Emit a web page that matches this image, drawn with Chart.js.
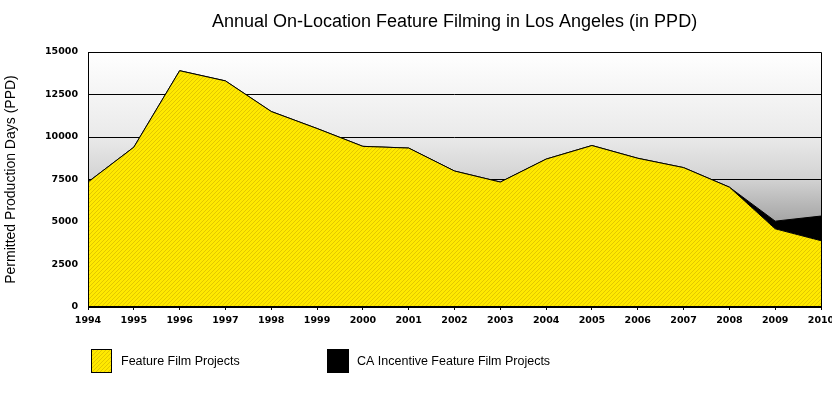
<!DOCTYPE html>
<html>
<head>
<meta charset="utf-8">
<script src="https://cdn.jsdelivr.net/npm/chart.js@4.4.0/dist/chart.umd.min.js"></script>
<style>
html, body { margin: 0; padding: 0; background: #fff; }
#wrap { width: 832px; height: 398px; }
</style>
</head>
<body>
<div id="wrap"><canvas id="myChart" width="832" height="398"></canvas></div>
<script>
// chart data
let years = ['1994', '1995', '1996', '1997', '1998', '1999', '2000', '2001', '2002',
             '2003', '2004', '2005', '2006', '2007', '2008', '2009', '2010'];
let featureFilm = [7350, 9400, 13900, 13300, 11500, 10500, 9450, 9350, 8000,
                   7350, 8700, 9500, 8750, 8200, 7050, 4600, 3900];
let caIncentive = [0, 0, 0, 0, 0, 0, 0, 0, 0,
                   0, 0, 0, 0, 0, 0, 450, 1450];
let yTickStep = 2500;
let yMax = 15000;

let chartTitle = 'Annual On-Location Feature Filming in Los Angeles (in PPD)';
let yTitle = 'Permitted Production Days (PPD)';
let seriesNames = ['Feature Film Projects', 'CA Incentive Feature Film Projects'];

// yellow hatched fill
function makeHatch() {
    const c = document.createElement('canvas');
    c.width = 4;
    c.height = 4;
    const g = c.getContext('2d');
    g.fillStyle = '#ffe900';
    g.fillRect(0, 0, 4, 4);
    g.fillStyle = '#e2c800';
    for (let i = 0; i < 4; i++) {
        g.fillRect(3 - i, i, 1, 1);
    }
    return g.createPattern(c, 'repeat');
}
const hatch = makeHatch();

// grey gradient behind the plot
const plotBackground = {
    id: 'plotBackground',
    beforeDraw(chart) {
        const a = chart.chartArea;
        const ctx = chart.ctx;
        const grad = ctx.createLinearGradient(0, a.top, 0, a.bottom);
        grad.addColorStop(0, '#ffffff');
        grad.addColorStop(0.33, '#eaeaea');
        grad.addColorStop(0.5, '#d2d2d2');
        grad.addColorStop(0.65, '#a9a9a9');
        grad.addColorStop(1, '#707070');
        ctx.save();
        ctx.fillStyle = grad;
        ctx.fillRect(a.left, a.top, a.right - a.left, a.bottom - a.top);
        ctx.restore();
    }
};

// frame, title and legend
const extras = {
    id: 'extras',
    afterDatasetsDraw(chart) {
        const a = chart.chartArea;
        const ctx = chart.ctx;
        ctx.save();
        ctx.strokeStyle = '#000';
        ctx.lineWidth = 1;
        ctx.beginPath();
        ctx.moveTo(Math.round(a.left) + 0.5, a.bottom);
        ctx.lineTo(Math.round(a.left) + 0.5, Math.round(a.top) + 0.5);
        ctx.lineTo(Math.round(a.right) + 0.5, Math.round(a.top) + 0.5);
        ctx.lineTo(Math.round(a.right) + 0.5, a.bottom);
        ctx.stroke();
        ctx.fillStyle = '#000';
        ctx.fillRect(Math.round(a.left), Math.round(a.bottom) - 1, Math.round(a.right) - Math.round(a.left) + 1, 2);
        ctx.restore();
    },
    afterDraw(chart) {
        const a = chart.chartArea;
        const ctx = chart.ctx;
        ctx.save();
        ctx.fillStyle = '#000';
        ctx.textBaseline = 'middle';
        ctx.textAlign = 'center';
        ctx.font = '18px "Liberation Sans", Arial, sans-serif';
        ctx.fillText(chartTitle, (a.left + a.right) / 2, 22);

        // legend
        ctx.textAlign = 'left';
        ctx.font = '12.5px "Liberation Sans", Arial, sans-serif';
        ctx.fillStyle = hatch;
        ctx.fillRect(91, 349, 21, 24);
        ctx.strokeStyle = '#000';
        ctx.lineWidth = 1;
        ctx.strokeRect(91.5, 349.5, 20, 23);
        ctx.fillStyle = '#000';
        ctx.fillText(seriesNames[0], 121, 362);
        ctx.fillRect(327, 349, 22, 24);
        ctx.fillText(seriesNames[1], 357, 362);
        ctx.restore();
    }
};

const tickFont = { family: '"DejaVu Sans", Verdana, sans-serif', size: 9.5, weight: 'bold' };

const ctx = document.getElementById('myChart').getContext('2d');
const myChart = new Chart(ctx, {
    type: 'line',
    data: {
        labels: years,
        datasets: [{
            label: seriesNames[0],
            data: featureFilm,
            fill: 'origin',
            backgroundColor: hatch,
            borderColor: '#000',
            borderWidth: 1
        }, {
            label: seriesNames[1],
            data: caIncentive,
            fill: '-1',
            backgroundColor: '#000',
            borderColor: '#000',
            borderWidth: 1
        }]
    },
    options: {
        responsive: false,
        animation: false,
        events: [],
        elements: {
            point: { radius: 0 },
            line: { tension: 0 }
        },
        layout: {
            padding: { left: 0, right: 11, top: 52, bottom: 66 }
        },
        plugins: {
            legend: { display: false },
            title: { display: false },
            tooltip: { enabled: false }
        },
        scales: {
            x: {
                offset: false,
                grid: {
                    display: true,
                    drawOnChartArea: false,
                    drawTicks: true,
                    tickLength: 3,
                    color: '#000'
                },
                border: { display: false },
                ticks: {
                    color: '#000',
                    font: tickFont,
                    padding: 5,
                    maxRotation: 0,
                    autoSkip: false
                },
                afterFit(scale) {
                    scale.height = 25;
                    scale.paddingLeft = 0;
                    scale.paddingRight = 0;
                }
            },
            y: {
                stacked: true,
                min: 0,
                max: yMax,
                grid: {
                    color: '#000',
                    lineWidth: 1,
                    drawTicks: false
                },
                border: { display: false },
                ticks: {
                    stepSize: yTickStep,
                    color: '#000',
                    font: tickFont,
                    padding: 10,
                    callback: function (v) { return String(v); }
                },
                title: {
                    display: true,
                    text: yTitle,
                    color: '#000',
                    font: { family: '"Liberation Sans", Arial, sans-serif', size: 14 },
                    padding: { top: 3, bottom: 0 }
                },
                afterFit(scale) {
                    scale.width = 88;
                    scale.paddingTop = 0;
                    scale.paddingBottom = 0;
                }
            }
        }
    },
    plugins: [plotBackground, extras]
});
</script>
</body>
</html>
